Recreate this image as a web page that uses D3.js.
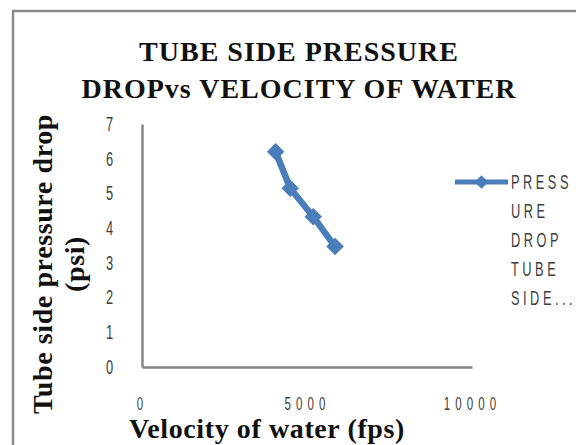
<!DOCTYPE html>
<html>
<head>
<meta charset="utf-8">
<script src="https://cdn.jsdelivr.net/npm/d3@7"></script>
<style>
  body { margin: 0; background: #fff; }
  svg { display: block; }
</style>
</head>
<body>
<svg id="chart" width="576" height="445"></svg>
<script>
// data
const velocity = [4050, 4490, 5190, 5850];
const pressureDrop = [6.2, 5.15, 4.33, 3.47];
const xTicks = [0, 5000, 10000];
const yTicks = [0, 1, 2, 3, 4, 5, 6, 7];
const legendLines = ["PRESS", "URE", "DROP", "TUBE", "SIDE..."];

const blue = "#4a7ebb";
const axisGrey = "#868686";
const labelGrey = "#404040";
const sansFont = "'Liberation Sans', Arial, sans-serif";
const serif = "'Liberation Serif', 'Times New Roman', serif";
const sx = 0.64; // squeeze for the narrow tick / legend font

// squeeze text horizontally while keeping its anchor point
function narrow(sel) {
    sel.each(function () {
        const t = d3.select(this);
        t.attr("x", (+t.attr("x") || 0) / sx)
         .attr("transform", `scale(${sx},1)`);
    });
}

const svg = d3.select("#chart");

// chart area border (runs off the right / bottom of the picture)
svg.append("rect")
    .attr("x", 13).attr("y", 11)
    .attr("width", 600).attr("height", 460)
    .attr("fill", "#fff")
    .attr("stroke", "#8c8c8c")
    .attr("stroke-width", 2.5);

const x = d3.scaleLinear().domain([0, 10000]).range([142, 472]);
const y = d3.scaleLinear().domain([0, 7]).range([367, 124]);

// title
const title = svg.append("text")
    .attr("text-anchor", "middle")
    .attr("font-family", serif)
    .attr("font-weight", "bold")
    .attr("font-size", 28)
    .attr("letter-spacing", 1)
    .attr("fill", "#111");
title.append("tspan").attr("x", 299).attr("y", 61).text("TUBE SIDE PRESSURE");
title.append("tspan").attr("x", 299).attr("y", 98).text("DROPvs VELOCITY OF WATER");

// axes
svg.append("g")
    .attr("transform", `translate(0,${y(0)})`)
    .call(d3.axisBottom(x).tickValues(xTicks).tickSize(0).tickPadding(30).tickFormat(d3.format("d")))
    .call(g => g.select(".domain").attr("stroke", axisGrey).attr("stroke-width", 2.5))
    .call(g => g.selectAll("text")
        .attr("font-family", sansFont)
        .attr("font-size", 18)
        .attr("letter-spacing", 8)
        .attr("fill", labelGrey)
        .call(narrow));

svg.append("g")
    .attr("transform", `translate(${x(0)},0)`)
    .call(d3.axisLeft(y).tickValues(yTicks).tickSize(0).tickPadding(29).tickFormat(d3.format("d")))
    .call(g => g.select(".domain").attr("stroke", axisGrey).attr("stroke-width", 2.5))
    .call(g => g.selectAll("text")
        .attr("font-family", sansFont)
        .attr("font-size", 20)
        .attr("fill", labelGrey)
        .call(narrow));

// axis titles
svg.append("text")
    .attr("x", 267).attr("y", 438)
    .attr("text-anchor", "middle")
    .attr("font-family", serif)
    .attr("font-weight", "bold")
    .attr("font-size", 28)
    .attr("letter-spacing", 0.6)
    .attr("fill", "#111")
    .text("Velocity of water (fps)");

const yTitle = svg.append("text")
    .attr("transform", "translate(52,264) rotate(-90)")
    .attr("text-anchor", "middle")
    .attr("font-family", serif)
    .attr("font-weight", "bold")
    .attr("font-size", 28)
    .attr("letter-spacing", 0.6)
    .attr("fill", "#111");
yTitle.append("tspan").attr("x", 0).attr("y", 0).text("Tube side pressure drop");
yTitle.append("tspan").attr("x", 0).attr("y", 32).text("(psi)");

// series
const pts = velocity.map((v, i) => [v, pressureDrop[i]]);
const line = d3.line().x(d => x(d[0])).y(d => y(d[1]));

svg.append("path")
    .datum(pts)
    .attr("fill", "none")
    .attr("stroke", blue)
    .attr("stroke-width", 6.5)
    .attr("stroke-linejoin", "round")
    .attr("d", line);

const diamond = d3.symbol().type(d3.symbolDiamond2).size(150);
svg.append("g")
    .selectAll("path")
    .data(pts)
    .join("path")
    .attr("transform", d => `translate(${x(d[0])},${y(d[1])})`)
    .attr("d", diamond)
    .attr("fill", blue)
    .attr("stroke", blue)
    .attr("stroke-width", 1.5);

// legend
const lg = svg.append("g").attr("transform", "translate(455,182)");
lg.append("line")
    .attr("x1", 0).attr("x2", 53)
    .attr("stroke", blue).attr("stroke-width", 5);
lg.append("path")
    .attr("transform", "translate(26.5,0)")
    .attr("d", d3.symbol().type(d3.symbolDiamond2).size(120))
    .attr("fill", blue);
lg.selectAll("text")
    .data(legendLines)
    .join("text")
    .attr("x", 56)
    .attr("y", (d, i) => i * 29)
    .attr("dy", "0.36em")
    .attr("font-family", sansFont)
    .attr("font-size", 20)
    .attr("letter-spacing", 5.5)
    .attr("fill", labelGrey)
    .text(d => d)
    .call(narrow);
</script>
</body>
</html>
